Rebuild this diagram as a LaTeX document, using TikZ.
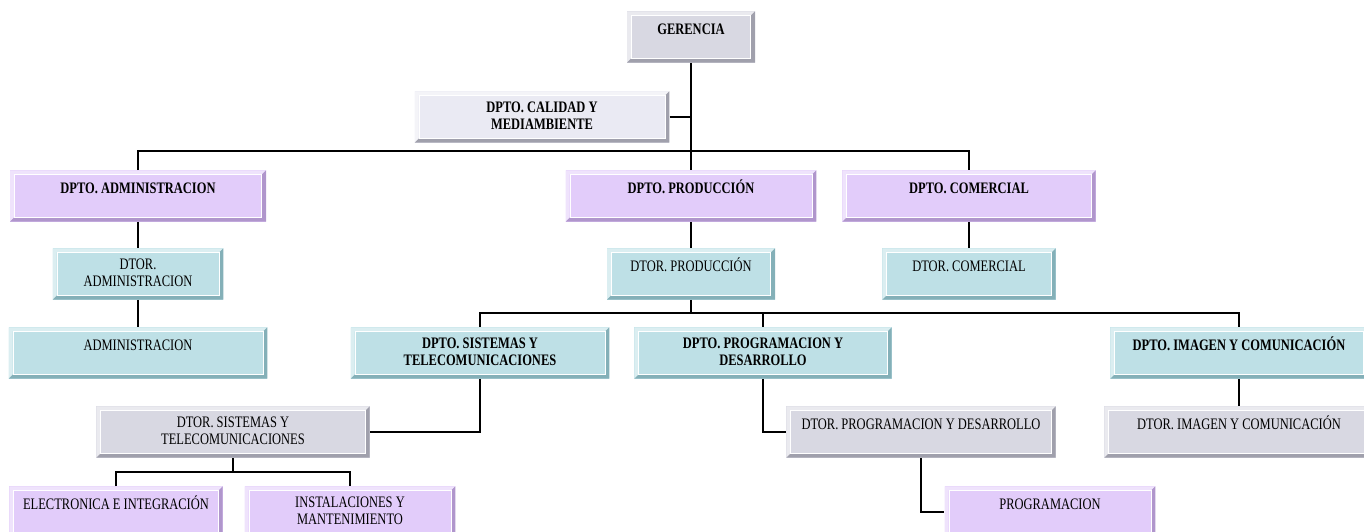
\documentclass[tikz,border=0pt]{standalone}
\usepackage{fontspec}
\setmainfont{Liberation Serif}[FakeStretch=0.78]
\usepackage{tikz}
\definecolor{purpleFill}{RGB}{226,204,250}
\definecolor{purpleFrame}{RGB}{176,150,204}
\definecolor{cyanFill}{RGB}{190,224,230}
\definecolor{cyanFrame}{RGB}{132,176,184}
\definecolor{grayFill}{RGB}{216,216,226}
\definecolor{grayFrame}{RGB}{160,160,172}
\definecolor{lightFill}{RGB}{234,234,243}

\begin{document}
\begin{tikzpicture}[x=0.75pt,y=-0.75pt]

          \tikzset{orgBox/.style 2 args={rectangle, fill=#1,
              text height=7.5pt, text depth=11pt, inner ysep=10pt, inner xsep=3pt,
              align=center, font=\fontsize{12}{12.5}\selectfont,
              path picture={
                \fill[#1!55!white] (path picture bounding box.north west) -- (path picture bounding box.north east)
                  -- ([xshift=-3pt,yshift=-3pt]path picture bounding box.north east)
                  -- ([xshift=3pt,yshift=-3pt]path picture bounding box.north west)
                  -- ([xshift=3pt,yshift=3pt]path picture bounding box.south west)
                  -- (path picture bounding box.south west) -- cycle;
                \fill[#2] (path picture bounding box.south east) -- (path picture bounding box.south west)
                  -- ([xshift=3pt,yshift=3pt]path picture bounding box.south west)
                  -- ([xshift=-3pt,yshift=3pt]path picture bounding box.south east)
                  -- ([xshift=-3pt,yshift=-3pt]path picture bounding box.north east)
                  -- (path picture bounding box.north east) -- cycle;
                \draw[white, line width=0.6pt]
                  ([xshift=3.3pt,yshift=-3.3pt]path picture bounding box.north west) rectangle
                  ([xshift=-3.3pt,yshift=3.3pt]path picture bounding box.south east);}}}
          \tikzstyle{purpleBox} = [orgBox={purpleFill}{purpleFrame}];
          \tikzstyle{cyanBox} = [orgBox={cyanFill}{cyanFrame}];
          \tikzstyle{grayBox} = [orgBox={grayFill}{grayFrame}];
          \tikzstyle{lightBox} = [orgBox={lightFill}{grayFrame}];
          \tikzstyle{headText} = [font=\fontsize{12}{12.5}\selectfont\bfseries];
          \tikzstyle{twoLine} = [text height=18.5pt, text depth=0pt];

          \tikzstyle{normalEdge} = [line width=1pt, black];

          \useasboundingbox (0,0) rectangle (1364,532);

          \node[grayBox, headText, minimum width=96pt] (gerencia) at (691,37) {GERENCIA};
          \node[lightBox, headText, twoLine, minimum width=191pt] (calidad) at (542,117) {DPTO. CALIDAD Y\\MEDIAMBIENTE};

          \node[purpleBox, headText, minimum width=192pt] (dptoAdmin) at (138,196) {DPTO. ADMINISTRACION};
          \node[purpleBox, headText, minimum width=188pt] (dptoProd) at (691,196) {DPTO. PRODUCCIÓN};
          \node[purpleBox, headText, minimum width=190pt] (dptoCom) at (969,196) {DPTO. COMERCIAL};

          \node[cyanBox, twoLine, minimum width=128pt] (dtorAdmin) at (138,274) {DTOR.\\ADMINISTRACION};
          \node[cyanBox, minimum width=126pt] (dtorProd) at (691,274) {DTOR. PRODUCCIÓN};
          \node[cyanBox, minimum width=130pt] (dtorCom) at (969,274) {DTOR. COMERCIAL};

          \node[cyanBox, minimum width=194pt] (administracion) at (138,353) {ADMINISTRACION};
          \node[cyanBox, headText, twoLine, minimum width=194pt] (dptoSis) at (480,353) {DPTO. SISTEMAS Y\\TELECOMUNICACIONES};
          \node[cyanBox, headText, twoLine, minimum width=193pt] (dptoProg) at (763,353) {DPTO. PROGRAMACION Y\\DESARROLLO};
          \node[cyanBox, headText, minimum width=193pt] (dptoImg) at (1239,353) {DPTO. IMAGEN Y COMUNICACIÓN};

          \node[grayBox, twoLine, minimum width=205pt] (dtorSis) at (233,432) {DTOR. SISTEMAS Y\\TELECOMUNICACIONES};
          \node[grayBox, minimum width=202pt] (dtorProg) at (921,432) {DTOR. PROGRAMACION Y DESARROLLO};
          \node[grayBox, minimum width=202pt] (dtorImg) at (1239,432) {DTOR. IMAGEN Y COMUNICACIÓN};

          \node[purpleBox, minimum width=160pt] (electronica) at (116,512) {ELECTRONICA E INTEGRACIÓN};
          \node[purpleBox, twoLine, minimum width=158pt] (instalaciones) at (350,512) {INSTALACIONES Y\\MANTENIMIENTO};
          \node[purpleBox, minimum width=158pt] (programacion) at (1050,512) {PROGRAMACION};

          \coordinate (busTop) at (691,151);
          \coordinate (busMid) at (691,313);
          \coordinate (busLow) at (233,472);

          \draw[normalEdge] (gerencia) -- (dptoProd);
          \draw[normalEdge] (calidad.east) -- (calidad.east -| gerencia.south);
          \draw[normalEdge] (dptoAdmin.north) |- (busTop) -| (dptoCom.north);
          \draw[normalEdge] (dptoAdmin) -- (dtorAdmin);
          \draw[normalEdge] (dtorAdmin) -- (administracion);
          \draw[normalEdge] (dptoProd) -- (dtorProd);
          \draw[normalEdge] (dptoCom) -- (dtorCom);
          \draw[normalEdge] (dtorProd) -- (busMid);
          \draw[normalEdge] (dptoSis.north) |- (busMid) -| (dptoImg.north);
          \draw[normalEdge] (busMid) -| (dptoProg.north);
          \draw[normalEdge] (dptoSis.south) |- (dtorSis.east);
          \draw[normalEdge] (dptoProg.south) |- (dtorProg.west);
          \draw[normalEdge] (dptoImg) -- (dtorImg);
          \draw[normalEdge] (dtorSis) -- (busLow);
          \draw[normalEdge] (electronica.north) |- (busLow) -| (instalaciones.north);
          \draw[normalEdge] (dtorProg.south) |- (programacion.west);
        \end{tikzpicture}
\end{document}
